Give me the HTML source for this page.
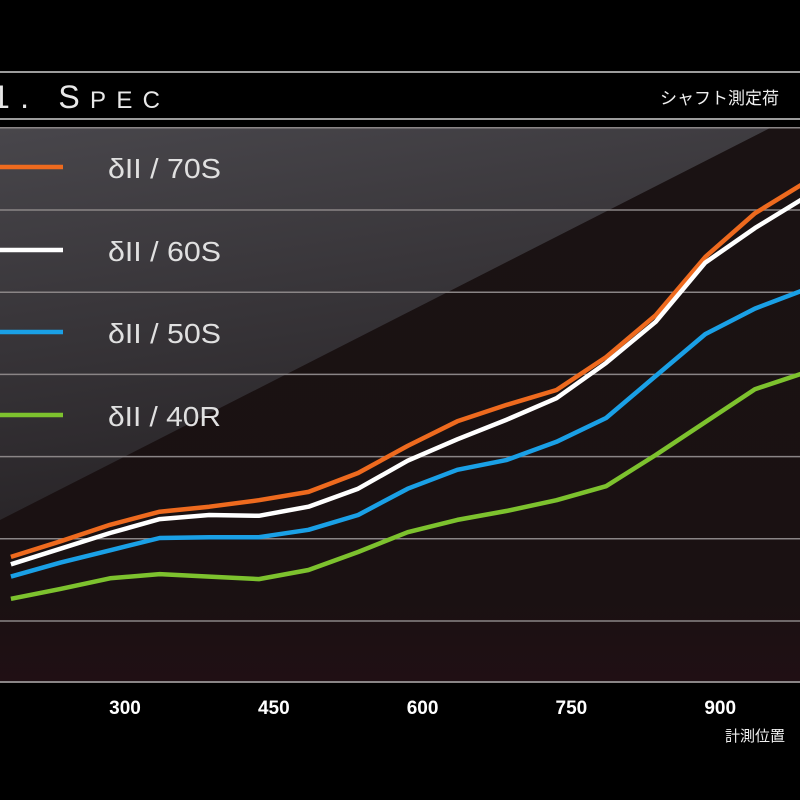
<!DOCTYPE html>
<html><head><meta charset="utf-8"><style>
html,body{margin:0;padding:0;background:#000;}
svg{display:block;}
text{font-family:"Liberation Sans","Noto Sans CJK JP",sans-serif;}
</style></head><body>
<svg id="chart" width="800" height="800" viewBox="0 0 800 800" xmlns="http://www.w3.org/2000/svg">
<defs>
<linearGradient id="bg" x1="0" y1="0" x2="0" y2="1">
<stop offset="0" stop-color="#1a1213"/><stop offset="0.85" stop-color="#1a1112"/><stop offset="1" stop-color="#200f14"/>
</linearGradient>
<linearGradient id="band" x1="0" y1="0" x2="0.3" y2="1">
<stop offset="0" stop-color="#48464b"/><stop offset="1" stop-color="#272326"/>
</linearGradient>
</defs>
<rect x="0" y="0" width="800" height="800" fill="#000"/>
<line x1="0" y1="72" x2="800" y2="72" stroke="#cfcfcf" stroke-width="1.5"/>
<line x1="0" y1="119" x2="800" y2="119" stroke="#cfcfcf" stroke-width="1.5"/>
<text x="-8" y="108" fill="#e8e8e8" font-size="32" textLength="168" lengthAdjust="spacing">1. S<tspan font-size="24">PEC</tspan></text>
<text x="660" y="104" fill="#f0f0f0" font-size="17">シャフト測定荷</text>
<rect x="0" y="128" width="800" height="554" fill="url(#bg)"/>
<polygon points="0,128 770,128 0,520" fill="url(#band)"/>
<g id="grid"></g>
<g id="series"></g>
<g id="legend"></g>
<g id="xticks"></g>
<text x="725" y="741" fill="#f0f0f0" font-size="15">計測位置</text>
</svg>
<script>
const positions = [185,235,285,335,385,435,485,535,585,635,685,735,785,835,885,935,985];
const s70 = [0.78,0.97,1.17,1.33,1.39,1.47,1.57,1.80,2.13,2.43,2.63,2.81,3.21,3.72,4.43,4.96,5.33];
const s60 = [0.69,0.88,1.07,1.24,1.29,1.28,1.39,1.61,1.95,2.21,2.45,2.71,3.14,3.64,4.36,4.78,5.15];
const s50 = [0.54,0.71,0.86,1.01,1.02,1.02,1.11,1.29,1.61,1.84,1.96,2.18,2.47,2.98,3.49,3.80,4.03];
const s40 = [0.27,0.39,0.52,0.57,0.54,0.51,0.62,0.84,1.08,1.23,1.34,1.47,1.64,2.02,2.42,2.82,3.02];
const seriesNames = ["δII / 70S","δII / 60S","δII / 50S","δII / 40R"];
const xTickLabels = ["150","300","450","600","750","900"];
const gridValues = [0,1,2,3,4,5,6];

const NS="http://www.w3.org/2000/svg";
function xS(v){return 125+(v-300)*0.992;}
function yS(v){return 621-v*82.2;}
function mk(tag,attrs,parent){const e=document.createElementNS(NS,tag);for(const k in attrs)e.setAttribute(k,attrs[k]);parent.appendChild(e);return e;}

const grid=document.getElementById('grid');
gridValues.forEach(g=>{
  const l=mk('line',{x1:0,x2:800,y1:yS(g),y2:yS(g),stroke:'#8a8586','stroke-width':1.5},grid);
  
  
});
const bl=mk('line',{x1:0,x2:800,y1:682,y2:682,stroke:'#8a8586','stroke-width':2},grid);



const colors=['#ee6a1e','#ffffff','#1aa0e6','#7dc22e'];
const all=[s70,s60,s50,s40];
const sg=document.getElementById('series');
const slugs=['line-70s','line-60s','line-50s','line-40r'];
all.forEach((arr,i)=>{
  const pts=arr.map((v,j)=>xS(positions[j]).toFixed(1)+','+yS(v).toFixed(1)).join(' ');
  const p=mk('polyline',{points:pts,fill:'none',stroke:colors[i],'stroke-width':4.5,'stroke-linejoin':'round'},sg);
  
  
});

const lg=document.getElementById('legend');
const ly=[167,250,332,415];
seriesNames.forEach((n,i)=>{
  const l=mk('line',{x1:0,x2:63,y1:ly[i],y2:ly[i],stroke:colors[i],'stroke-width':4.5},lg);
  
  
  const t=mk('text',{x:108,y:ly[i]+11,fill:'#e0e0e0','font-size':28,textLength:113,lengthAdjust:'spacingAndGlyphs'},lg);
  t.textContent=n;
  
  
});

const xt=document.getElementById('xticks');
xTickLabels.forEach(s=>{
  const t=mk('text',{x:xS(+s),y:714,fill:'#ffffff','font-size':19,'font-weight':'bold','text-anchor':'middle'},xt);
  t.textContent=s;
  
  
});
</script>
</body></html>
